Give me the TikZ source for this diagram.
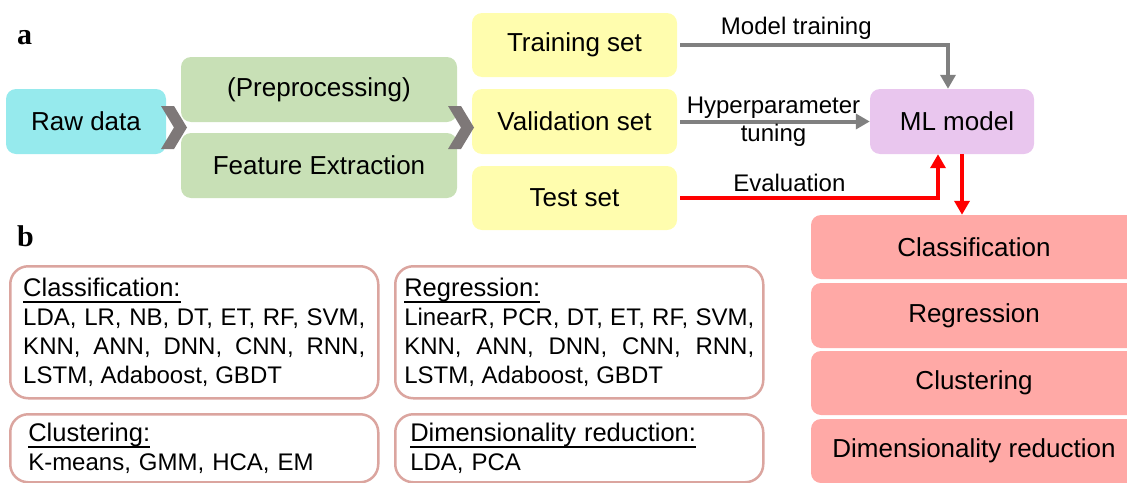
\documentclass[tikz,border=0pt]{standalone}
\usepackage{fontspec}
\setmainfont{Liberation Sans}
\newfontfamily\panelfont{Liberation Serif}
\usetikzlibrary{arrows.meta}

\definecolor{rawcyan}{HTML}{96EAED}
\definecolor{prepgreen}{HTML}{C8E0B6}
\definecolor{setyellow}{HTML}{FFFDAE}
\definecolor{mlpurple}{HTML}{E9C6EE}
\definecolor{outred}{HTML}{FFA9A6}
\definecolor{chevgray}{HTML}{7E7878}
\definecolor{frameline}{HTML}{DBA59F}
\definecolor{arrowgray}{HTML}{808080}

\newcommand{\headul}[1]{\setbox0=\hbox{#1}\copy0\llap{\rule[-6pt]{\wd0}{1.8pt}}}
\newcommand{\winkel}[2]{\fill[chevgray] (#1,#2) -- ++(13,0) -- ++(13,21.5) -- ++(-13,21.5) -- ++(-13,0) -- ++(13,-21.5) -- cycle;}

\tikzset{
  flowbox/.style={rounded corners=10pt, minimum height=65pt, inner sep=0pt, font=\fontsize{26}{30}\selectfont},
  algobox/.style={draw=frameline, line width=2.5pt, rounded corners=18pt, anchor=north west, inner ysep=0pt,
    font=\fontsize{24}{28.7}\selectfont},
  panellabel/.style={anchor=base west, inner sep=0pt, font=\panelfont\bfseries\fontsize{30}{30}\selectfont},
  lbl/.style={above, inner sep=4pt, font=\fontsize{24}{28}\selectfont},
  grayline/.style={draw=arrowgray, line width=4pt, -{Triangle[width=15pt,length=14pt]}},
  redline/.style={draw=red, line width=4.5pt, -{Triangle[width=15pt,length=14pt]}},
}

\begin{document}
\begin{tikzpicture}[x=1pt, y=-1pt]
	\useasboundingbox (0,0) rectangle (1127,482);
	\clip (0,0) rectangle (1127,482);
	%Teil a
	\node[panellabel] (la) at (17,44) {a};
	\node[flowbox, fill=rawcyan, minimum width=160pt] (raw) at (86,121.5) {Raw data};
	\node[flowbox, fill=prepgreen, minimum width=276pt] (prep) at (319,89.5) {(Preprocessing)};
	\node[flowbox, fill=prepgreen, minimum width=276pt] (feat) at (319,165.5) {Feature Extraction};
	\node[flowbox, fill=setyellow, minimum width=205pt, minimum height=64pt] (train) at (574.5,45) {Training set};
	\node[flowbox, fill=setyellow, minimum width=205pt] (valid) at (574.5,121.5) {Validation set};
	\node[flowbox, fill=setyellow, minimum width=205pt, minimum height=64pt] (test) at (574.5,198) {Test set};
	\node[flowbox, fill=mlpurple, minimum width=164pt] (ml) at (952,121.5) {\hspace{10pt}ML model};
	%Ergebnisse
	\node[flowbox, fill=outred, minimum width=326pt, minimum height=64pt] (cls) at (974,247) {Classification};
	\node[flowbox, fill=outred, minimum width=326pt] (reg) at (974,315.5) {Regression};
	\node[flowbox, fill=outred, minimum width=326pt, minimum height=64pt] (clu) at (974,383) {Clustering};
	\node[flowbox, fill=outred, minimum width=326pt, minimum height=64pt] (dim) at (974,451) {Dimensionality reduction};
	%Winkel
	\winkel{161}{106}
	\winkel{448}{106}
	%Pfeile
	\draw[grayline, shorten <=3pt] (train.east) -| node[lbl, pos=0.22] {Model training} ([xshift=-4pt]ml.north);
	\draw[grayline, shorten <=3pt] (valid.east) -- node[midway, align=center, inner sep=0pt, font=\fontsize{24}{28}\selectfont] {Hyperparameter\\tuning} (ml.west);
	\draw[redline, shorten <=3pt] (test.east) -| node[lbl, pos=0.215] {Evaluation} ([xshift=-14pt]ml.south);
	\draw[redline] ([xshift=10pt]ml.south) -- ([xshift=-12pt]cls.north);
	%Teil b
	\node[panellabel] (lb) at (17,246) {b};
	\node[algobox, text width=342pt, inner xsep=13pt, minimum height=132pt, align=justify] (algcls) at (9,265)
		{{\fontsize{25.5}{28.7}\selectfont\headul{Classification:}\par}LDA, LR, NB, DT, ET, RF, SVM,\linebreak KNN, ANN, DNN, CNN, RNN,\linebreak LSTM, Adaboost, GBDT};
	\node[algobox, text width=350pt, inner xsep=9pt, minimum height=132pt, align=justify] (algreg) at (394,265)
		{{\fontsize{25.5}{28.7}\selectfont\headul{Regression:}\par}LinearR, PCR, DT, ET, RF, SVM,\linebreak KNN, ANN, DNN, CNN, RNN,\linebreak LSTM, Adaboost, GBDT};
	\node[algobox, text width=332pt, inner xsep=18pt, minimum height=68pt, align=left] (algclu) at (9,413)
		{{\fontsize{25.5}{28.7}\selectfont\headul{Clustering:}\par}K-means, GMM, HCA, EM};
	\node[algobox, text width=338pt, inner xsep=15pt, minimum height=68pt, align=left] (algdim) at (394,413)
		{{\fontsize{25.5}{28.7}\selectfont\headul{Dimensionality reduction:}\par}LDA, PCA};
\end{tikzpicture}
\end{document}
